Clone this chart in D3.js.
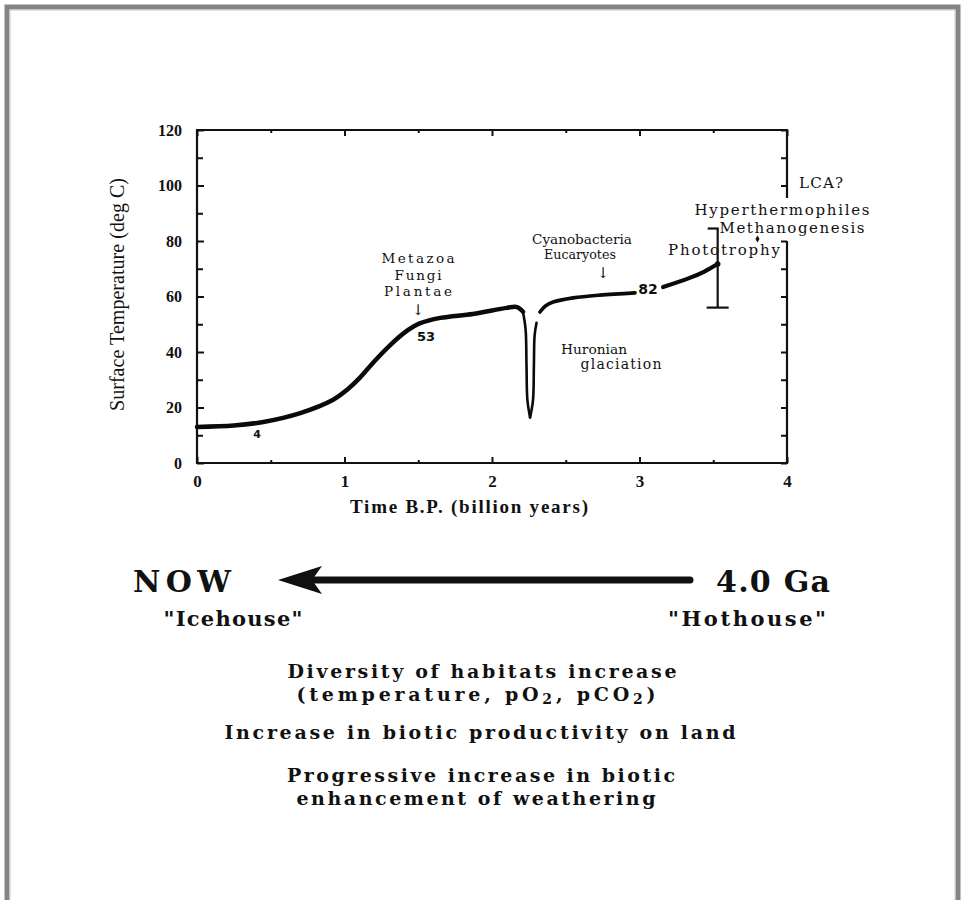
<!DOCTYPE html>
<html><head><meta charset="utf-8">
<script src="https://cdn.jsdelivr.net/npm/d3@7"></script>
<style>body{margin:0;background:#fff}svg{display:block}</style>
</head><body><svg id="c" width="964" height="900"></svg>
<script>
// ---- data ----
const curveTime = [0, 0.25, 0.45, 0.7, 0.92, 1.02, 1.1, 1.2, 1.31, 1.42, 1.51, 1.65, 1.87, 2.1, 2.17, 2.21];
const curveTemp = [13, 13.5, 14.8, 18, 22.7, 26.5, 30.5, 36.5, 42.5, 47.5, 50.3, 52.3, 53.7, 55.9, 56.2, 54.5];
const dipLeftTime = [2.21, 2.228, 2.234, 2.24, 2.258];
const dipLeftTemp = [54.5, 48, 35, 22.7, 16.4];
const dipRightTime = [2.258, 2.278, 2.284, 2.289, 2.302];
const dipRightTemp = [16.4, 22.7, 35, 46, 50.5];
const lateTime = [2.325, 2.36, 2.414, 2.55, 2.73, 2.97];
const lateTemp = [54.4, 56.5, 58, 59.5, 60.5, 61.3];
const earlyTime = [3.16, 3.34, 3.44, 3.53];
const earlyTemp = [63.4, 66.7, 69, 71.7];
const errTime = 3.53, errLow = 56, errHigh = 84.5;
const markTime = 3.8, markTemp = 80.7;
const rightAxisBreak = [80, 95.5];
const xTicks = [0, 1, 2, 3, 4];
const xMinor = [0.5, 1.5, 2.5, 3.5];
const yTicks = [0, 20, 40, 60, 80, 100, 120];
const yMinor = [10, 30, 50, 70, 90, 110];
const curveLabels = ["4", "53", "82"];

const svg = d3.select("#c");
const x = d3.scaleLinear().domain([0, 4]).range([197, 787]);
const y = d3.scaleLinear().domain([0, 120]).range([463, 130]);

// frame
svg.append("rect").attr("x", 7).attr("y", 7).attr("width", 951).attr("height", 920)
  .attr("fill", "none").attr("stroke", "#858585").attr("stroke-width", 5);
svg.append("rect").attr("x", 10).attr("y", 10).attr("width", 945).attr("height", 920)
  .attr("fill", "none").attr("stroke", "#c8c8c8").attr("stroke-width", 1);

const serif = "'Liberation Serif', 'Times New Roman', serif";
const wide = "'DejaVu Serif', serif";

// fit a text to a target width: shrink the font if too wide, else open the spacing
function fit(sel, target) {
  const fs = +sel.attr("font-size");
  const n = sel.node().getComputedTextLength();
  if (n > target) sel.attr("font-size", (fs * target / n).toFixed(2));
  else sel.attr("textLength", target).attr("lengthAdjust", "spacing");
  return sel;
}

function styleAxis(g) {
  g.select(".domain").remove();
  g.selectAll(".tick line").attr("stroke", "#111").attr("stroke-width", 2);
  g.selectAll("text").attr("font-family", serif).attr("font-weight", "bold").attr("fill", "#111");
}

// bottom axis
svg.append("g").attr("transform", `translate(0,${y(0)})`)
  .call(d3.axisBottom(x).tickValues(xTicks).tickSize(-6).tickPadding(12).tickFormat(d3.format("d")))
  .call(styleAxis).selectAll("text").attr("font-size", 17);
svg.append("g").attr("transform", `translate(0,${y(0)})`)
  .call(d3.axisBottom(x).tickValues(xMinor).tickSize(-3).tickFormat(""))
  .call(styleAxis);
// top axis
svg.append("g").attr("transform", `translate(0,${y(120)})`)
  .call(d3.axisTop(x).tickValues(xTicks).tickSize(-6).tickFormat(""))
  .call(styleAxis);
svg.append("g").attr("transform", `translate(0,${y(120)})`)
  .call(d3.axisTop(x).tickValues(xMinor).tickSize(-3).tickFormat(""))
  .call(styleAxis);
// left axis
svg.append("g").attr("transform", `translate(${x(0)},0)`)
  .call(d3.axisLeft(y).tickValues(yTicks).tickSize(-7).tickPadding(15).tickFormat(d3.format("d")))
  .call(styleAxis).selectAll("text").attr("font-size", 16);
svg.append("g").attr("transform", `translate(${x(0)},0)`)
  .call(d3.axisLeft(y).tickValues(yMinor).tickSize(-6).tickFormat(""))
  .call(styleAxis);
// right axis (broken)
const rTicks = yTicks.concat(yMinor).filter(v => v <= rightAxisBreak[0] || v >= rightAxisBreak[1]);
svg.append("g").attr("transform", `translate(${x(4)},0)`)
  .call(d3.axisRight(y).tickValues(rTicks).tickSize(-6).tickFormat(""))
  .call(styleAxis);

// axis lines
const ax = svg.append("g").attr("stroke", "#111").attr("stroke-width", 2.2).attr("fill", "none");
ax.append("line").attr("x1", x(0)).attr("x2", x(4) + 1).attr("y1", y(0)).attr("y2", y(0));
ax.append("line").attr("x1", x(0) - 1).attr("x2", x(4) + 1).attr("y1", y(120)).attr("y2", y(120));
ax.append("line").attr("x1", x(0)).attr("x2", x(0)).attr("y1", y(0) + 1).attr("y2", y(120) - 1);
ax.append("line").attr("x1", x(4)).attr("x2", x(4)).attr("y1", y(0) + 1).attr("y2", y(rightAxisBreak[0]));
ax.append("line").attr("x1", x(4)).attr("x2", x(4)).attr("y1", y(rightAxisBreak[1])).attr("y2", y(120) - 1);

// axis titles
fit(svg.append("text").attr("transform", `translate(124,${(y(0) + y(120)) / 2 - 2}) rotate(-90)`)
  .attr("text-anchor", "middle").attr("font-family", serif).attr("font-size", 20).attr("fill", "#111")
  .text("Surface Temperature (deg C)"), 233);
fit(svg.append("text").attr("x", (x(0) + x(4)) / 2 - 23).attr("y", 513)
  .attr("text-anchor", "middle").attr("font-family", serif).attr("font-weight", "bold").attr("font-size", 19)
  .attr("fill", "#111").text("Time B.P. (billion years)"), 238);

// curve
const line = d3.line().x(d => x(d[0])).y(d => y(d[1])).curve(d3.curveCatmullRom.alpha(0.5));
const zip = (a, b) => a.map((v, i) => [v, b[i]]);
const cg = svg.append("g").attr("fill", "none").attr("stroke", "#0a0a0a").attr("stroke-linecap", "round").attr("stroke-linejoin", "round");
cg.append("path").attr("d", line(zip(curveTime, curveTemp))).attr("stroke-width", 4.5);
cg.append("path").attr("d", line(zip(dipLeftTime, dipLeftTemp))).attr("stroke-width", 2.6);
cg.append("path").attr("d", line(zip(dipRightTime, dipRightTemp))).attr("stroke-width", 2.6);
cg.append("path").attr("d", line(zip(lateTime, lateTemp))).attr("stroke-width", 3.6);
cg.append("path").attr("d", line(zip(earlyTime, earlyTemp))).attr("stroke-width", 4.2);

// error bar
const eb = svg.append("g").attr("stroke", "#111").attr("stroke-width", 2.2);
eb.append("line").attr("x1", x(errTime)).attr("x2", x(errTime)).attr("y1", y(errLow)).attr("y2", y(errHigh));
eb.append("line").attr("x1", x(errTime) - 11).attr("x2", x(errTime) + 11).attr("y1", y(errLow)).attr("y2", y(errLow));
eb.append("line").attr("x1", x(errTime) - 10).attr("x2", x(errTime) + 1).attr("y1", y(errHigh)).attr("y2", y(errHigh));
svg.append("circle").attr("cx", x(errTime)).attr("cy", y(earlyTemp[earlyTemp.length - 1])).attr("r", 2.8).attr("fill", "#111");
svg.append("path").attr("d", d3.symbol(d3.symbolDiamond, 14)()).attr("transform", `translate(${x(markTime)},${y(markTemp)})`).attr("fill", "#111");

// curve number labels
const sans = "'DejaVu Sans', 'Liberation Sans', sans-serif";
[[curveLabels[0], 257, 438, 11], [curveLabels[1], 426, 341, 13], [curveLabels[2], 648, 294, 14]].forEach(([t, px, py, fs]) => {
  svg.append("text").attr("x", px).attr("y", py).attr("text-anchor", "middle")
    .attr("font-family", sans).attr("font-weight", "bold").attr("font-size", fs).attr("fill", "#111").text(t);
});

// annotations
function ann(t, cx, by, w, fs = 15, fam = wide) {
  const e = svg.append("text").attr("x", cx).attr("y", by).attr("text-anchor", "middle")
    .attr("font-family", fam).attr("font-size", fs).attr("fill", "#111").text(t);
  if (w) fit(e, w);
  return e;
}
ann("Metazoa", 418, 263, 73, 13.5);
ann("Fungi", 418, 279.5, 47, 13.5);
ann("Plantae", 418, 296, 68, 13.5);
ann("\u2193", 418, 315, null, 15);
ann("Cyanobacteria", 582, 244, 100, 15);
ann("Eucaryotes", 580, 259, 72, 15);
ann("\u2193", 603, 278, null, 15);
ann("Huronian", 594, 354, 66, 14);
ann("glaciation", 621, 369, 81, 14);
ann("Hyperthermophiles", 782, 215, 175);
ann("Methanogenesis", 792, 233, 145);
ann("Phototrophy", 724, 255, 112);
ann("LCA?", 821, 188, 44);

// lower section
const bold = "'DejaVu Serif', serif";
function btxt(t, cx, by, w, fs) {
  return fit(svg.append("text").attr("x", cx).attr("y", by).attr("text-anchor", "middle")
    .attr("font-family", bold).attr("font-weight", "bold").attr("font-size", fs).attr("fill", "#111")
    .text(t), w);
}
btxt("NOW", 182, 592, 98, 30);
btxt("4.0 Ga", 773, 592, 114, 30);
btxt("\"Icehouse\"", 233, 626, 139, 21);
btxt("\"Hothouse\"", 747, 626, 158, 21);
btxt("Diversity of habitats increase", 482, 678, 389, 19);
const t2 = svg.append("text").attr("x", 476).attr("y", 701).attr("text-anchor", "middle")
  .attr("font-family", bold).attr("font-weight", "bold").attr("font-size", 19).attr("fill", "#111");
t2.append("tspan").text("(temperature, pO");
t2.append("tspan").attr("font-size", 14).attr("dy", 3).text("2");
t2.append("tspan").attr("dy", -3).text(", pCO");
t2.append("tspan").attr("font-size", 14).attr("dy", 3).text("2");
t2.append("tspan").attr("dy", -3).text(")");
fit(t2, 359);
btxt("Increase in biotic productivity on land", 480, 739, 511, 19);
btxt("Progressive increase in biotic", 481, 782, 388, 19);
btxt("enhancement of weathering", 476, 805, 359, 19);

// big arrow
svg.append("line").attr("x1", 690).attr("x2", 300).attr("y1", 580).attr("y2", 580)
  .attr("stroke", "#111").attr("stroke-width", 7).attr("stroke-linecap", "round");
svg.append("path").attr("d", "M278,580 L322,566 L312,580 L322,594 Z").attr("fill", "#111");
</script></body></html>
